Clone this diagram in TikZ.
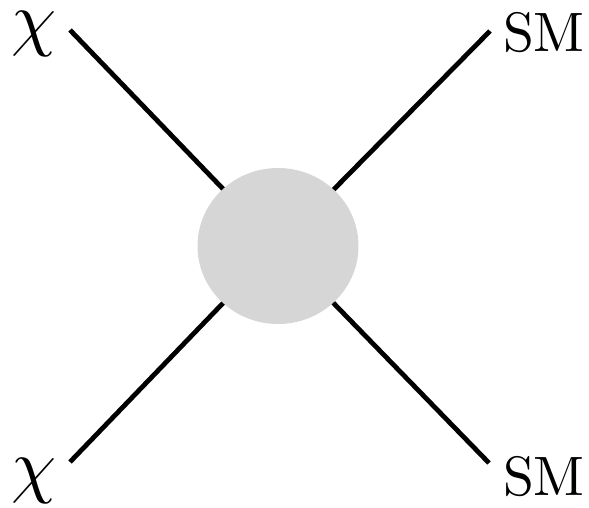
\documentclass[tikz,border=0pt]{standalone}
\usepackage{graphicx}
\begin{document}
\begin{tikzpicture}[x=1pt,y=-1pt,
  leg/.style={line width=4.8pt},
  blob/.style={fill=black!16,draw=none},
  lbl/.style={inner sep=0pt},
  chilbl/.style={inner sep=0pt}]
\useasboundingbox (0,0) rectangle (589,507);
\coordinate (c) at (278,246);
\node[chilbl] (chi1) at (34,34) {\scalebox{7.2}{$\chi$}};
\node[chilbl] (chi2) at (34,481) {\scalebox{7.2}{$\chi$}};
\node[lbl] (sm1) at (544,33) {\scalebox{5.55}{SM}};
\node[lbl] (sm2) at (544,477) {\scalebox{5.55}{SM}};
\coordinate (a1) at (70,30);
\coordinate (a2) at (70,462);
\coordinate (b1) at (490,31);
\coordinate (b2) at (489,463);
\draw[leg] (a1) -- (c);
\draw[leg] (a2) -- (c);
\draw[leg] (b1) -- (c);
\draw[leg] (b2) -- (c);
\fill[blob] (c) ellipse [x radius=80.5, y radius=78];
\end{tikzpicture}
\end{document}
